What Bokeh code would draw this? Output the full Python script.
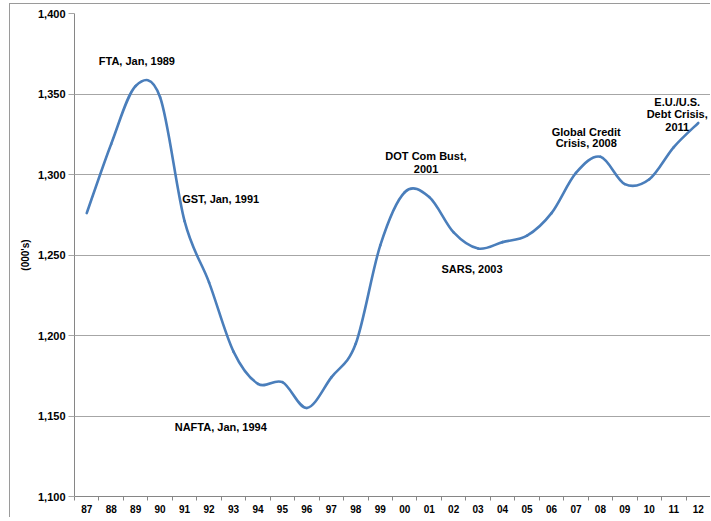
import numpy as np
from bokeh.plotting import figure
from bokeh.models import Range1d, FixedTicker, NumeralTickFormatter, Label
from bokeh.embed import file_html
from bokeh.resources import INLINE

# ---- data ----
years = ["87", "88", "89", "90", "91", "92", "93", "94", "95", "96", "97", "98", "99",
         "00", "01", "02", "03", "04", "05", "06", "07", "08", "09", "10", "11", "12"]
employment = [1276, 1319, 1355, 1348, 1271, 1233, 1190, 1170, 1171, 1155, 1174, 1195, 1256,
              1289, 1286, 1264, 1254, 1258, 1262, 1276, 1301, 1311, 1294, 1297, 1317, 1332]
y_ticks = [1100, 1150, 1200, 1250, 1300, 1350, 1400]
annotations = [
    ("FTA, Jan, 1989", 2.05, 1370.2, "center"),
    ("GST, Jan, 1991", 3.9, 1285.0, "left"),
    ("NAFTA, Jan, 1994", 5.48, 1142.9, "center"),
    ("DOT Com Bust,", 13.87, 1311.2, "center"),
    ("2001", 13.87, 1303.7, "center"),
    ("SARS, 2003", 15.75, 1241.6, "center"),
    ("Global Credit", 20.42, 1326.7, "center"),
    ("Crisis, 2008", 20.42, 1319.6, "center"),
    ("E.U./U.S.", 24.14, 1345.0, "center"),
    ("Debt Crisis,", 24.14, 1337.3, "center"),
    ("2011", 24.14, 1329.8, "center"),
]

FONT = "Liberation Sans"
GRID = "#a6a6a6"
AXIS = "#868686"
LINE = "#4a7ebb"

n = len(years)
xs = np.arange(n, dtype=float)
ys = np.array(employment, dtype=float)

p = figure(width=701, height=514, output_backend="svg", toolbar_location=None,
           x_range=Range1d(-0.5, n - 0.5), y_range=Range1d(1100, 1400),
           min_border_left=64, min_border_right=1, min_border_top=9, min_border_bottom=22,
           styles={"border-left": "1px solid #9a9a9a", "border-top": "1px solid #9a9a9a",
                   "margin-left": "9px", "margin-top": "3px"})
p.outline_line_color = None
p.background_fill_color = "white"
p.border_fill_color = "white"

# smooth line (Excel-style cubic Bezier through the yearly points)
x0, y0, x1, y1, cx0, cy0, cx1, cy1 = [], [], [], [], [], [], [], []
for i in range(n - 1):
    a = max(i - 1, 0)
    d = min(i + 2, n - 1)
    x0.append(xs[i]); y0.append(ys[i]); x1.append(xs[i + 1]); y1.append(ys[i + 1])
    cx0.append(xs[i] + (xs[i + 1] - xs[a]) / 6.0)
    cy0.append(ys[i] + (ys[i + 1] - ys[a]) / 6.0)
    cx1.append(xs[i + 1] - (xs[d] - xs[i]) / 6.0)
    cy1.append(ys[i + 1] - (ys[d] - ys[i]) / 6.0)
p.bezier(x0=x0, y0=y0, x1=x1, y1=y1, cx0=cx0, cy0=cy0, cx1=cx1, cy1=cy1,
         line_color=LINE, line_width=2.6, line_cap="round")

# axes
xa = p.xaxis[0]
xa.ticker = FixedTicker(ticks=list(range(n)), minor_ticks=[i - 0.5 for i in range(n + 1)])
xa.major_label_overrides = {i: years[i] for i in range(n)}
xa.major_tick_out = 0
xa.major_tick_in = 0
xa.minor_tick_out = 4
xa.minor_tick_in = 0
xa.minor_tick_line_color = AXIS
xa.axis_line_color = AXIS
xa.major_label_text_font = FONT
xa.major_label_text_font_style = "bold"
xa.major_label_text_font_size = "10px"
xa.major_label_text_color = "black"
xa.major_label_standoff = 4

ya = p.yaxis[0]
ya.ticker = FixedTicker(ticks=y_ticks)
ya.formatter = NumeralTickFormatter(format="0,0")
ya.major_tick_out = 6
ya.major_tick_in = 0
ya.minor_tick_out = 0
ya.minor_tick_in = 0
ya.major_tick_line_color = GRID
ya.axis_line_color = AXIS
ya.major_label_text_font = FONT
ya.major_label_text_font_style = "bold"
ya.major_label_text_font_size = "11px"
ya.major_label_text_color = "black"
ya.major_label_standoff = 3
ya.axis_label = "(000's)"
ya.axis_label_text_font = FONT
ya.axis_label_text_font_style = "bold"
ya.axis_label_text_font_size = "10px"
ya.axis_label_text_color = "black"
ya.axis_label_standoff = 4

p.xgrid.grid_line_color = None
p.ygrid.grid_line_color = GRID
p.ygrid.grid_line_width = 1

for txt, x, y, align in annotations:
    p.add_layout(Label(x=x, y=y, text=txt, text_align=align, text_baseline="middle",
                       text_font=FONT, text_font_style="bold", text_font_size="11px",
                       text_color="black"))

open("out.html", "w").write(file_html(p, INLINE))
